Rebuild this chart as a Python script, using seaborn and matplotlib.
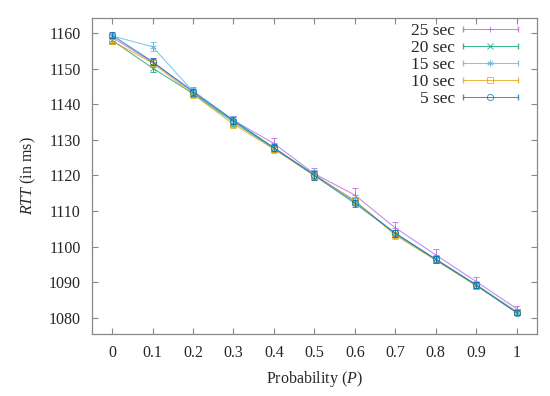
import numpy as np
import pandas as pd
import matplotlib
matplotlib.use("Agg")
import matplotlib.pyplot as plt
import seaborn as sns
from matplotlib.lines import Line2D
from matplotlib.legend_handler import HandlerLine2D, HandlerTuple

# probability values on the x axis
prob = [0, 0.1, 0.2, 0.3, 0.4, 0.5, 0.6, 0.7, 0.8, 0.9, 1]
xtick_labels = ["0", "0.1", "0.2", "0.3", "0.4", "0.5", "0.6", "0.7", "0.8", "0.9", "1"]

# mean RTT (ms) per interval
rtt_25 = [1158.8, 1151.8, 1143.8, 1135.5, 1129.0, 1120.5, 1114.5, 1105.3, 1097.7, 1090.2, 1082.6]
rtt_20 = [1158.0, 1150.2, 1143.0, 1135.0, 1127.6, 1120.2, 1112.8, 1103.6, 1096.4, 1089.2, 1081.6]
rtt_15 = [1159.2, 1156.2, 1143.6, 1135.6, 1127.8, 1120.3, 1112.6, 1103.8, 1096.6, 1089.4, 1081.8]
rtt_10 = [1157.8, 1151.6, 1142.8, 1134.4, 1127.4, 1120.0, 1113.0, 1103.2, 1096.2, 1089.0, 1081.6]
rtt_5 = [1159.4, 1152.0, 1143.4, 1135.4, 1127.8, 1120.0, 1112.2, 1103.8, 1096.4, 1089.2, 1081.4]

# error bar half-widths
err_25 = [1.0, 1.2, 1.2, 1.2, 1.6, 1.5, 2.0, 1.5, 1.5, 1.2, 0.8]
err_20 = [0.9, 1.0, 1.0, 1.0, 1.0, 1.2, 1.0, 1.0, 0.9, 0.9, 0.7]
err_15 = [0.9, 1.2, 1.0, 1.0, 1.0, 1.2, 1.0, 1.0, 0.9, 0.9, 0.7]
err_10 = [0.9, 1.0, 1.0, 1.0, 1.0, 1.2, 1.0, 1.0, 0.9, 0.9, 0.7]
err_5 = [0.9, 1.0, 1.0, 1.0, 1.0, 1.2, 1.0, 1.0, 0.9, 0.9, 0.7]

labels = ["25 sec", "20 sec", "15 sec", "10 sec", "5 sec"]
colors = ["#b35ce0", "#009E73", "#56B4E9", "#E69F00", "#0072B2"]
marker_list = ["+", "x", (6, 2, 0), "s", "o"]

series = [rtt_25, rtt_20, rtt_15, rtt_10, rtt_5]
errors = [err_25, err_20, err_15, err_10, err_5]

df = pd.concat(
    [pd.DataFrame({"P": prob, "RTT": s, "err": e, "interval": lab})
     for s, e, lab in zip(series, errors, labels)],
    ignore_index=True,
)

sns.set_style("ticks")
plt.rcParams["font.family"] = ["Liberation Serif", "DejaVu Serif"]
plt.rcParams["mathtext.fontset"] = "custom"
plt.rcParams["mathtext.it"] = "Liberation Serif:italic"
plt.rcParams["mathtext.rm"] = "Liberation Serif"

fig = plt.figure(figsize=(5.5, 3.96), dpi=100)
ax = fig.add_axes([0.167, 0.157, 0.809, 0.798])

for lab, c, m in zip(labels, colors, marker_list):
    sub = df[df["interval"] == lab]
    sns.lineplot(data=sub, x="P", y="RTT", color=c, marker=m, markersize=4.5,
                 markerfacecolor="none", markeredgecolor=c, markeredgewidth=0.7,
                 linewidth=0.75, alpha=0.75, ax=ax, legend=False)
    ax.errorbar(sub["P"], sub["RTT"], yerr=sub["err"], fmt="none", ecolor=c,
                elinewidth=0.7, capsize=2.5, capthick=0.7, alpha=0.75)

ax.set_xlim(-0.05, 1.05)
ax.set_ylim(1075.5, 1164.3)
ax.set_xticks(prob)
ax.set_xticklabels(xtick_labels)
ax.set_yticks(range(1080, 1161, 10))
ax.tick_params(direction="in", length=4, width=0.8, color="#888888",
               top=True, right=True, labelsize=11.5, pad=8)
for sp in ax.spines.values():
    sp.set_color("#888888")
    sp.set_linewidth(0.9)

ax.set_xlabel("Probability ($\\mathit{P}$)", fontsize=11.5, labelpad=6)
ax.set_ylabel("$\\mathit{RTT}$ (in ms)", fontsize=11.5, labelpad=8)

# gnuplot style legend: label on the left, bar sample with caps on the right
handles = []
hmap = {tuple: HandlerTuple(ndivide=1, pad=0)}
for c, m in zip(colors, marker_list):
    caps = Line2D([], [], color=c, marker="|", markersize=5, lw=0.75, alpha=0.75)
    mk = Line2D([], [], color=c, marker=m, markersize=4.5, linestyle="none",
                markerfacecolor="none", markeredgewidth=0.7, alpha=0.75)
    hmap[caps] = HandlerLine2D(numpoints=2, marker_pad=0)
    handles.append((caps, mk))

ax.legend(handles, labels, handler_map=hmap, loc="upper right",
          bbox_to_anchor=(0.958, 0.985), frameon=False, markerfirst=False,
          fontsize=12.5, handlelength=3.2, handletextpad=0.45,
          labelspacing=0.06, borderpad=0, borderaxespad=0)

fig.savefig("out.png", dpi=100)
